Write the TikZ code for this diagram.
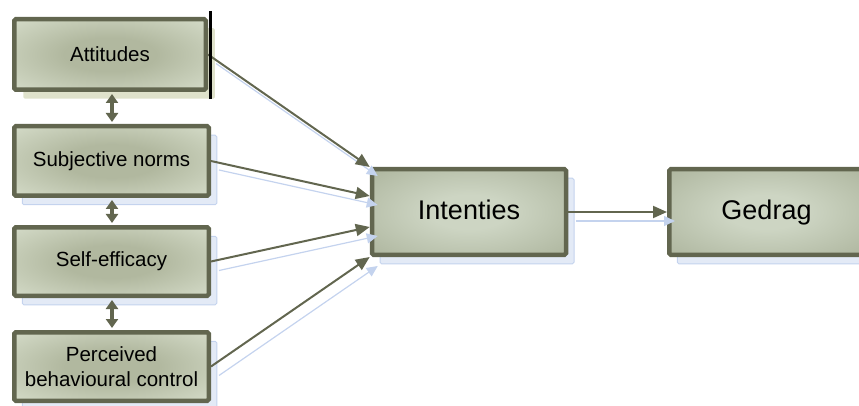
\documentclass[tikz,border=0pt]{standalone}
\usepackage{fontspec}
\setmainfont{Liberation Sans}
\usetikzlibrary{arrows.meta,shadows,calc}
\definecolor{bordc}{HTML}{62664F}
\definecolor{lcin}{HTML}{B1B89F}
\definecolor{lcout}{HTML}{E0E7D6}
\definecolor{mcin}{HTML}{CDD5C3}
\definecolor{mcout}{HTML}{A4AC93}
\definecolor{beigesh}{HTML}{DFE2CB}
\definecolor{blfill}{HTML}{E3EAF6}
\definecolor{bldraw}{HTML}{C4D3EE}
\pgfdeclareradialshading{leftshade}{\pgfpoint{0bp}{0bp}}{color(0bp)=(lcin); color(12bp)=(lcin); color(44bp)=(lcout); color(50bp)=(lcout)}
\pgfdeclareradialshading{midshade}{\pgfpoint{0bp}{0bp}}{color(0bp)=(mcin); color(10bp)=(mcin); color(44bp)=(mcout); color(50bp)=(mcout)}
\tikzset{
  basebox/.style={rectangle, rounded corners=1.5pt, draw=bordc, line width=4.5pt, align=center, text=black},
  leftbox/.style={basebox, shading=leftshade, font=\fontsize{20.5}{24.5}\selectfont,
     minimum width=194.5pt, minimum height=68.5pt},
  bigbox/.style={basebox, shading=midshade, font=\fontsize{27}{32}\selectfont,
     text height=19.5pt, text depth=5.5pt,
     minimum width=194pt, minimum height=85.5pt},
  blueshadow/.style={general shadow={fill=blfill, draw=bldraw, line width=1pt, shadow xshift=8pt, shadow yshift=-9pt}},
  beigeshadow/.style={general shadow={fill=beigesh, shadow xshift=9pt, shadow yshift=-9pt}},
  marrow/.style={draw=bordc, line width=2pt, -{Triangle[length=14pt,width=12pt]}},
  sarrow/.style={draw=bldraw, line width=1.2pt, -{Triangle[length=11pt,width=10pt]}},
  darrow/.style={draw=bordc, line width=3.2pt, {Triangle[length=9pt,width=12pt]}-{Triangle[length=9pt,width=12pt]}, shorten <=2pt, shorten >=2pt},
  edgebar/.style={draw=black, line width=3pt}
}
\begin{document}
\begin{tikzpicture}[x=1pt,y=-1pt]
\useasboundingbox (0,0) rectangle (859,406);
% boxes
\node[leftbox, beigeshadow, minimum width=191.5pt, minimum height=70.5pt] (att) at (110,54.5) {Attitudes};
\node[leftbox, blueshadow, minimum height=69.5pt] (subj) at (111.5,161) {Subjective norms};
\node[leftbox, blueshadow] (self) at (111.5,261.5) {Self-efficacy};
\node[leftbox, blueshadow] (pbc) at (111.5,366.5) {Perceived\\behavioural control};
\node[bigbox, blueshadow] (int) at (469,212) {Intenties};
\node[bigbox, blueshadow, minimum width=194.5pt] (ged) at (766.5,212) {Gedrag};
\coordinate (cx) at (112,0);
% shadow arrows
\begin{scope}[transform canvas={shift={(8pt,-9pt)}}]
\draw[sarrow] (att.east) -- (int.north west);
\draw[sarrow] (subj.east) -- ($(int.west)+(0,-16)$);
\draw[sarrow] (self.east) -- ($(int.west)+(0,15)$);
\draw[sarrow] (pbc.east) -- (int.south west);
\draw[sarrow] (int.east) -- (ged.west);
\end{scope}
% main arrows
\draw[marrow] (att.east) -- (int.north west);
\draw[marrow] (subj.east) -- ($(int.west)+(0,-16)$);
\draw[marrow] (self.east) -- ($(int.west)+(0,15)$);
\draw[marrow] (pbc.east) -- (int.south west);
\draw[marrow] (int.east) -- (ged.west);
% vertical double arrows
\draw[darrow] (att.south -| cx) -- (subj.north -| cx);
\draw[darrow] (subj.south -| cx) -- (self.north -| cx);
\draw[darrow] (self.south -| cx) -- (pbc.north -| cx);
% black bar on the right of Attitudes
\draw[edgebar] ($(att.north east)+(2,-6)$) -- ($(att.south east)+(2,7)$);
\end{tikzpicture}
\end{document}
